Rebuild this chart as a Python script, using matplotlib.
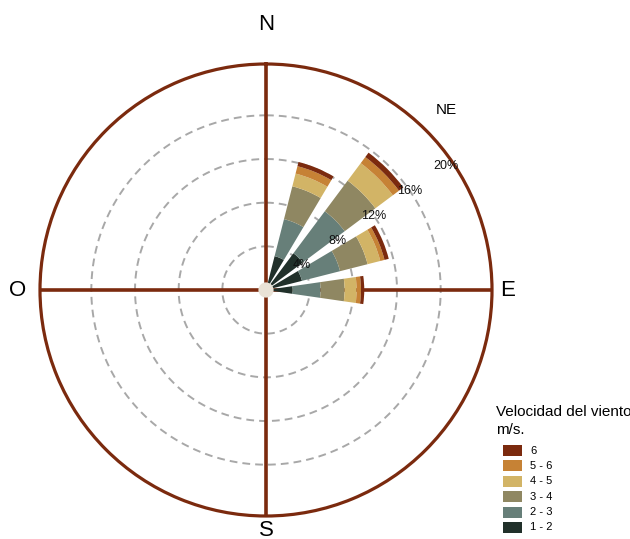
import numpy as np
import matplotlib
matplotlib.use("Agg")
import matplotlib.pyplot as plt
from matplotlib.patches import Rectangle

plt.rcParams['font.family'] = ['Liberation Sans', 'DejaVu Sans']

# Wind directions (degrees clockwise from north)
directions = ["NNE", "NE", "ENE", "E"]
dir_angles = [22.5, 45.0, 67.5, 90.0]

# Speed classes (m/s) and frequency (%) per class for each direction
speed_bins = ["1 - 2", "2 - 3", "3 - 4", "4 - 5", "5 - 6", "6"]
freq_1_2 = [3.2, 4.2, 3.4, 2.4]
freq_2_3 = [3.5, 4.8, 3.6, 2.6]
freq_3_4 = [3.1, 3.5, 2.6, 2.2]
freq_4_5 = [1.2, 2.0, 1.2, 1.1]
freq_5_6 = [0.7, 0.7, 0.4, 0.4]
freq_6 = [0.4, 0.5, 0.4, 0.3]
bin_colors = ["#21302a", "#677f79", "#8f8762", "#d2b466", "#c68235", "#7b2a0e"]

ring_levels = [4, 8, 12, 16, 20]

brown = "#7b2a0e"
r_max = 20.7

fig = plt.figure(figsize=(6.30, 5.39), dpi=100)
W, H = 630, 539
cx, cy, rad = 266, 290, 226
ax = fig.add_axes([(cx - rad) / W, (H - cy - rad) / H, 2 * rad / W, 2 * rad / H],
                  projection="polar")
ax.set_theta_zero_location("N")
ax.set_theta_direction(-1)
ax.set_ylim(0, r_max)
ax.grid(False)
ax.set_xticks([])
ax.set_yticks([])
ax.spines["polar"].set_color(brown)
ax.spines["polar"].set_linewidth(2.3)
ax.set_facecolor("white")

# dashed rings
th = np.linspace(0, 2 * np.pi, 400)
for lv in ring_levels[:-1]:
    ax.plot(th, np.full_like(th, lv), color="#a8a8a8", lw=1.4,
            linestyle=(0, (4.0, 2.6)), zorder=1)

# compass cross
for a in [0, 90, 180, 270]:
    ax.plot([np.radians(a)] * 2, [0, r_max], color=brown, lw=2.6,
            zorder=2, solid_capstyle="butt")

# stacked petals
series = [freq_1_2, freq_2_3, freq_3_4, freq_4_5, freq_5_6, freq_6]
theta = np.radians(dir_angles)
width = np.radians(16.5)
bottom = np.zeros(len(directions))
for vals, col, lab in zip(series, bin_colors, speed_bins):
    ax.bar(theta, vals, width=width, bottom=bottom, color=col,
           edgecolor="none", linewidth=0, zorder=3, label=lab)
    bottom = bottom + np.array(vals)

# center hub
ax.scatter([0], [0], s=120, color="#e9e2d6", zorder=5, edgecolors="none")

# ring labels
for lv in ring_levels:
    ax.text(np.radians(55.5), lv, f"{lv}%", fontsize=9, ha="center",
            va="center", zorder=6, color="#111111")

# cardinal labels
fig.text(cx / W, 1 - 25 / H, "N", fontsize=16, ha="center", va="center")
fig.text(cx / W, 1 - 530 / H, "S", fontsize=16, ha="center", va="center")
fig.text(18 / W, 1 - 290 / H, "O", fontsize=16, ha="center", va="center")
fig.text(508 / W, 1 - 290 / H, "E", fontsize=16, ha="center", va="center")
fig.text(446 / W, 1 - 110 / H, "NE", fontsize=11, ha="center", va="center")

# legend
fig.text(496 / W, 1 - 412 / H, "Velocidad del viento", fontsize=11,
         ha="left", va="center")
fig.text(496 / W, 1 - 430 / H, "m/s.", fontsize=11, ha="left", va="center")
for i, (col, lab) in enumerate(zip(bin_colors[::-1], speed_bins[::-1])):
    yc = 450.5 + i * 15.4
    fig.patches.append(Rectangle((503 / W, 1 - (yc + 5.5) / H), 19 / W, 11 / H,
                                 transform=fig.transFigure, facecolor=col,
                                 edgecolor="none"))
    fig.text(530 / W, 1 - yc / H, lab, fontsize=8, ha="left", va="center")

fig.savefig("out.png", dpi=100)
